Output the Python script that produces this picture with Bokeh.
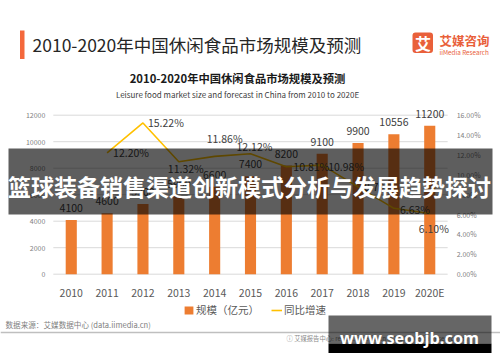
from bokeh.plotting import figure
from bokeh.models import (ColumnDataSource, Range1d, LinearAxis, FactorRange, Label,
                          BoxAnnotation, Legend, LegendItem, FixedTicker, CustomJSTickFormatter)
from bokeh.embed import file_html
from bokeh.resources import INLINE
from bokeh.core.properties import value

# ---------------- data ----------------
years = ["2010", "2011", "2012", "2013", "2014", "2015", "2016", "2017", "2018", "2019", "2020E"]
market_size = [4100, 4600, 5300, 5900, 6600, 7400, 8200, 9100, 9900, 10556, 11200]
growth_years = ["2011", "2012", "2013", "2014", "2015", "2016", "2017", "2018", "2019", "2020E"]
growth_pct = [12.20, 15.22, 11.32, 11.86, 12.12, 10.81, 10.98, 8.79, 6.63, 6.10]
left_ticks = [0, 2000, 4000, 6000, 8000, 10000, 12000]
right_ticks = [0, 2, 4, 6, 8, 10, 12, 14, 16]

# label placement (screen offsets, styles only)
growth_dx = [6, 5, -11, -8, -14, 7, 6, 6, 6, -11]
growth_dy = [0, 0, 7, -18, -7, 0, 1, 0, 1, 15]

FONT = "Noto Sans CJK SC"
W, H = 500, 362
ORANGE = "#ED7D31"
YELLOW = "#FFC000"

# plot area: value 0 at canvas y 273.7, 12000 at canvas y 114.7 (159 px)
PX = 159.0 / 12000
y_lo = -(H - 273.7) / PX
y_hi = 12000 + 114.7 / PX
pct_scale = 12000 / 16.0

p = figure(width=W, height=H,
           x_range=FactorRange(*years, range_padding=1.474, range_padding_units="absolute"),
           y_range=Range1d(y_lo, y_hi), output_backend="svg", toolbar_location=None,
           min_border=0, title=None)
p.extra_y_ranges = {"pct": Range1d(y_lo / pct_scale, y_hi / pct_scale)}
p.outline_line_color = None
p.background_fill_color = "white"
p.border_fill_color = "white"
p.xgrid.grid_line_color = None
p.ygrid.grid_line_color = None

# axes (fixed inside the canvas)
p.xaxis.fixed_location = 0
p.xaxis.axis_line_color = None
p.xaxis.major_tick_line_color = None
p.xaxis.minor_tick_line_color = None
p.xaxis.major_tick_out = 0
p.xaxis.major_label_text_font = FONT
p.xaxis.major_label_text_font_size = "10.5px"
p.xaxis.major_label_text_color = "#595959"
p.xaxis.major_label_standoff = 11

p.yaxis.fixed_location = 0
p.yaxis.ticker = FixedTicker(ticks=left_ticks)
p.yaxis.axis_line_color = None
p.yaxis.major_tick_line_color = None
p.yaxis.minor_tick_line_color = None
p.yaxis.major_tick_out = 0
p.yaxis.major_label_text_font = FONT
p.yaxis.major_label_text_font_size = "7px"
p.yaxis.major_label_text_color = "#808080"
p.yaxis.major_label_standoff = 8

raxis = LinearAxis(y_range_name="pct", ticker=FixedTicker(ticks=right_ticks), fixed_location=11,
                   formatter=CustomJSTickFormatter(code="return tick.toFixed(2) + '%';"))
raxis.axis_line_color = None
raxis.major_tick_line_color = None
raxis.minor_tick_line_color = None
raxis.major_tick_out = 0
raxis.major_label_text_font = FONT
raxis.major_label_text_font_size = "7px"
raxis.major_label_text_color = "#808080"
raxis.major_label_standoff = 9
p.add_layout(raxis, "right")

# horizontal grid lines across the category span
p.segment(x0=[0] * len(left_ticks), x1=[len(years)] * len(left_ticks), y0=left_ticks, y1=left_ticks,
          line_color="#D9D9D9", line_width=1)

# bars
bsrc = ColumnDataSource(dict(year=years, size=market_size, lab=[str(v) for v in market_size]))
bars = p.vbar(x="year", top="size", width=0.31, source=bsrc, fill_color=ORANGE, line_color=None)
p.text(x="year", y="size", text="lab", source=bsrc, text_align="center", text_baseline="middle",
       y_offset=-12, text_font=value(FONT), text_font_size="10.5px", text_color="#404040")

# line
gsrc = ColumnDataSource(dict(year=growth_years, g=growth_pct,
                             lab=["%.2f%%" % v for v in growth_pct], dx=growth_dx, dy=growth_dy))
line = p.line(x="year", y="g", source=gsrc, y_range_name="pct", line_color=YELLOW, line_width=1.6)
p.text(x="year", y="g", text="lab", source=gsrc, y_range_name="pct", x_offset="dx", y_offset="dy",
       text_align="left", text_baseline="middle", text_font=value(FONT),
       text_font_size="10.5px", text_color="#404040")

# legend (frame == canvas; location is bottom-left, y up)
legend = Legend(items=[LegendItem(label="规模（亿元）", renderers=[bars]),
                       LegendItem(label="同比增速", renderers=[line])],
                location=(183, H - 311 - 6), orientation="horizontal", glyph_width=11, glyph_height=10,
                label_standoff=2, spacing=12, padding=0, margin=0, border_line_color=None,
                background_fill_alpha=0, label_text_font=FONT, label_text_font_size="10.5px",
                label_text_color="#595959", label_height=12)
p.add_layout(legend)


# ------------- page-level decorations (canvas units, y from top) -------------
def add_label(text, px, py, size, color, align="left", bold=False, level="annotation", font=FONT):
    p.add_layout(Label(x=px, y=py, x_units="canvas", y_units="canvas", text=text,
                       text_font=font, text_font_size=size, text_color=color,
                       text_align=align, text_baseline="middle",
                       text_font_style="bold" if bold else "normal", level=level))


def add_box(x0, y0, x1, y1, color, alpha=1.0, radius=0, level="annotation"):
    p.add_layout(BoxAnnotation(left=x0, right=x1, top=y0, bottom=y1,
                               left_units="canvas", right_units="canvas",
                               top_units="canvas", bottom_units="canvas",
                               fill_color=color, fill_alpha=alpha, line_color=None,
                               border_radius=radius, level=level, editable=False))


# header
add_box(19.5, 30, 24, 58.5, "#F4683C")
add_label("2010-2020年中国休闲食品市场规模及预测", 32, 44, "17.5px", "#262626")
add_box(412, 32, 432.5, 52.5, "#E9603A", radius=3)
add_label("艾", 422.5, 42.5, "16px", "white", align="center", bold=True)
add_label("艾媒咨询", 439, 40, "12.5px", "#E9603A", bold=True)
add_label("iiMedia Research", 439, 51.5, "6.3px", "#E9603A")

# chart title
add_label("2010-2020年中国休闲食品市场规模及预测", 237, 77, "11.3px", "#1a1a1a", align="center", bold=True)
add_label("Leisure food market size and forecast in China from 2010 to 2020E", 237, 94, "8px",
          "#404040", align="center")

# footer
add_label("数据来源：艾媒数据中心 (data.iimedia.cn)", 5, 324, "7.6px", "#7f7f7f")
add_box(0, 331.3, 500, 332.8, "#BFBFBF")
add_label("ⓘ 艾媒报告中心: report.iimedia.cn ©2020 iiMedia Research Inc", 286, 338, "6.3px", "#8c8c8c")

# overlays
add_box(8, 148, 492, 214, "black", alpha=0.63, level="overlay")
add_label("篮球装备销售渠道创新模式分析与发展趋势探讨", 249, 185, "23px", "white", align="center",
          bold=True, level="overlay")
add_box(328, 315, 491, 343, "black", alpha=0.6, level="overlay")
add_box(328, 343, 491, 352.5, "black", alpha=1.0, level="overlay")
add_label("www.seobjb.com", 409, 337, "16.3px", "white", align="center", bold=True,
          level="overlay", font="Open Sans")

open("out.html", "w").write(file_html(p, INLINE))
